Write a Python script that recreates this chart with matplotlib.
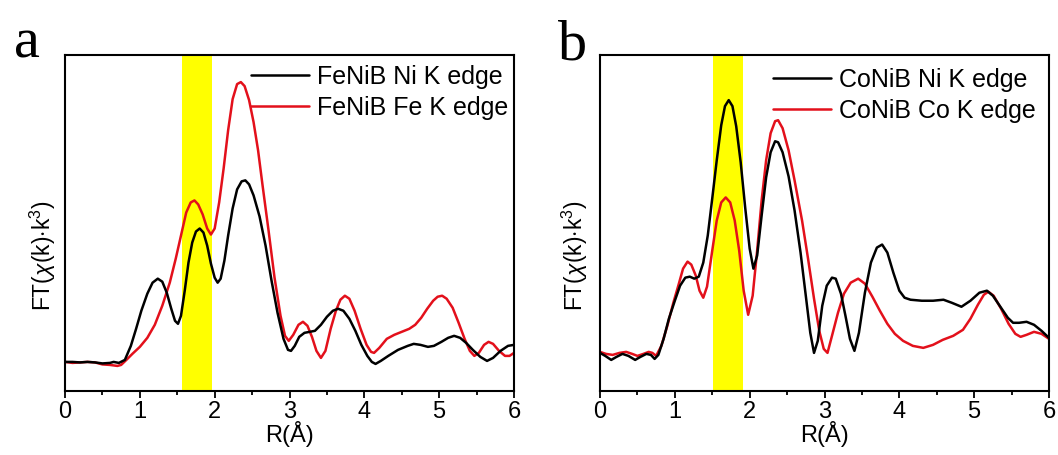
import matplotlib
matplotlib.use("Agg")
import matplotlib.pyplot as plt
from matplotlib.ticker import MultipleLocator

plt.rcParams['font.family'] = ['Liberation Sans', 'DejaVu Sans']
plt.rcParams['mathtext.fontset'] = 'custom'
plt.rcParams['mathtext.rm'] = 'Liberation Sans'
plt.rcParams['mathtext.it'] = 'Liberation Sans:italic'

# ---------------- data (R in Angstrom, FT magnitude in arbitrary units) -------------
a_ni_R = [0.00, 0.10, 0.20, 0.30, 0.40, 0.50, 0.60, 0.65, 0.72, 0.80, 0.88, 0.95, 1.02, 1.10,
          1.17, 1.24, 1.30, 1.36, 1.42, 1.47, 1.51, 1.55, 1.60, 1.65, 1.70, 1.75, 1.80, 1.85,
          1.90, 1.95, 2.00, 2.04, 2.08, 2.13, 2.18, 2.24, 2.30, 2.36, 2.41, 2.46, 2.52, 2.60,
          2.68, 2.76, 2.84, 2.92, 2.98, 3.02, 3.07, 3.13, 3.20, 3.27, 3.34, 3.42, 3.50, 3.58,
          3.65, 3.72, 3.80, 3.88, 3.96, 4.04, 4.10, 4.15, 4.22, 4.32, 4.45, 4.58, 4.66, 4.75,
          4.85, 4.93, 5.03, 5.12, 5.20, 5.28, 5.36, 5.45, 5.55, 5.64, 5.72, 5.82, 5.92, 6.00]
a_ni_FT = [29, 29, 28.5, 29, 28.5, 27.5, 28, 29, 28, 31, 45, 62, 80, 97,
           108, 112, 109, 98, 82, 70, 67, 75, 100, 128, 148, 159, 162, 158,
           145, 127, 113, 108, 112, 130, 155, 182, 201, 209, 210, 206, 195, 174,
           145, 110, 78, 52, 41, 40, 45, 54, 58, 59, 60, 66, 74, 80,
           82, 80, 72, 60, 46, 35, 29, 27, 30, 35, 41, 45, 47, 46,
           44, 45, 49, 53, 55, 53, 48, 41, 34, 30, 33, 40, 45, 46]

a_fe_R = [0.00, 0.10, 0.20, 0.30, 0.40, 0.50, 0.60, 0.70, 0.75, 0.82, 0.90, 1.00, 1.10, 1.20,
          1.30, 1.40, 1.48, 1.55, 1.62, 1.68, 1.73, 1.78, 1.84, 1.90, 1.95, 2.00, 2.06, 2.12,
          2.18, 2.24, 2.30, 2.35, 2.40, 2.46, 2.52, 2.58, 2.64, 2.72, 2.80, 2.88, 2.94, 2.99,
          3.05, 3.12, 3.18, 3.24, 3.30, 3.36, 3.42, 3.48, 3.55, 3.62, 3.68, 3.74, 3.80, 3.87,
          3.95, 4.03, 4.09, 4.13, 4.20, 4.30, 4.40, 4.50, 4.60, 4.68, 4.76, 4.84, 4.92, 4.98,
          5.04, 5.10, 5.18, 5.26, 5.34, 5.41, 5.47, 5.53, 5.60, 5.66, 5.72, 5.80, 5.88, 5.94, 6.00]
a_fe_FT = [29, 28, 28.5, 29, 28.5, 26.5, 26, 25, 26, 31, 37, 44, 53, 66,
           85, 108, 132, 155, 178, 188, 190, 186, 176, 162, 156, 162, 188, 222,
           260, 291, 306, 308, 304, 290, 268, 240, 205, 160, 113, 75, 55, 50,
           56, 66, 69, 65, 54, 40, 33, 40, 62, 80, 91, 95, 92, 80,
           62, 46, 39, 38, 43, 52, 56, 59, 62, 66, 73, 82, 90, 94,
           95, 92, 83, 68, 52, 40, 35, 38, 46, 49, 47, 40, 35, 35, 38]

b_ni_R = [0.00, 0.07, 0.15, 0.22, 0.30, 0.38, 0.47, 0.54, 0.62, 0.68, 0.73, 0.78, 0.85, 0.92,
          1.00, 1.07, 1.14, 1.20, 1.26, 1.32, 1.38, 1.44, 1.50, 1.56, 1.62, 1.67, 1.72, 1.77,
          1.82, 1.88, 1.94, 2.00, 2.05, 2.10, 2.16, 2.22, 2.28, 2.34, 2.38, 2.44, 2.52, 2.60,
          2.68, 2.75, 2.81, 2.86, 2.91, 2.97, 3.03, 3.10, 3.15, 3.22, 3.28, 3.34, 3.40, 3.46,
          3.54, 3.62, 3.70, 3.77, 3.84, 3.92, 4.00, 4.07, 4.15, 4.30, 4.45, 4.59, 4.70, 4.83,
          4.95, 5.07, 5.17, 5.25, 5.35, 5.45, 5.52, 5.60, 5.70, 5.80, 5.90, 6.00]
b_ni_FT = [38, 35, 31, 34, 37, 35, 31, 34, 37, 36, 32, 36, 52, 72,
           90, 105, 113, 114, 112, 114, 128, 155, 192, 230, 265, 284, 290, 284,
           264, 228, 183, 142, 122, 135, 175, 213, 238, 249, 248, 238, 214, 180,
           138, 95, 58, 38, 50, 85, 105, 113, 112, 97, 75, 52, 40, 58,
           98, 128, 143, 146, 138, 118, 100, 93, 91, 90, 90, 91, 88, 84,
           90, 98, 100, 95, 84, 73, 68, 68, 69, 66, 60, 53]

b_co_R = [0.00, 0.08, 0.17, 0.26, 0.35, 0.43, 0.50, 0.58, 0.65, 0.70, 0.75, 0.82, 0.90, 0.98,
          1.05, 1.11, 1.17, 1.22, 1.28, 1.33, 1.38, 1.43, 1.50, 1.56, 1.62, 1.68, 1.74, 1.80,
          1.86, 1.92, 1.98, 2.04, 2.10, 2.16, 2.22, 2.28, 2.34, 2.38, 2.44, 2.52, 2.60, 2.70,
          2.78, 2.86, 2.93, 2.99, 3.04, 3.10, 3.18, 3.26, 3.35, 3.45, 3.54, 3.64, 3.74, 3.84,
          3.94, 4.05, 4.18, 4.32, 4.45, 4.58, 4.72, 4.85, 4.95, 5.05, 5.13, 5.19, 5.26, 5.36,
          5.46, 5.55, 5.62, 5.70, 5.80, 5.90, 6.00]
b_co_FT = [39, 37, 36, 38, 39, 37, 35, 37, 39, 38, 35, 45, 65, 88,
           106, 122, 129, 126, 115, 100, 93, 104, 140, 170, 188, 193, 188, 170,
           140, 100, 76, 95, 140, 190, 230, 257, 269, 270, 262, 240, 210, 170,
           132, 92, 60, 42, 38, 55, 78, 97, 108, 112, 107, 94, 80, 67,
           57, 50, 45, 43, 46, 51, 55, 61, 72, 86, 96, 99, 95, 82,
           67, 57, 54, 56, 59, 57, 52]

band_a = (1.57, 1.96)
band_b = (1.51, 1.91)

labels_a = ['FeNiB Ni K edge', 'FeNiB Fe K edge']
labels_b = ['CoNiB Ni K edge', 'CoNiB Co K edge']
x_ticks = [0, 1, 2, 3, 4, 5, 6]

RED = '#e3101b'
W, H = 1058, 455
fig = plt.figure(figsize=(W / 100, H / 100), dpi=100)

def px_axes(left, right, top, bottom):
    return fig.add_axes([left / W, 1 - bottom / H, (right - left) / W, (bottom - top) / H])

ax_a = px_axes(65, 514, 55, 391)
ax_b = px_axes(600, 1049, 55, 391)

panels = [
    (ax_a, a_ni_R, a_ni_FT, a_fe_R, a_fe_FT, band_a, labels_a, 0.412, 0.975),
    (ax_b, b_ni_R, b_ni_FT, b_co_R, b_co_FT, band_b, labels_b, 0.383, 0.965),
]
for ax, r1, y1, r2, y2, band, labels, lx, ly in panels:
    ax.axvspan(band[0], band[1], color='#ffff00', lw=0, zorder=0)
    ax.plot(r1, y1, color='black', lw=1.8, label=labels[0], zorder=3,
            solid_joinstyle='round', solid_capstyle='round')
    ax.plot(r2, y2, color=RED, lw=1.8, label=labels[1], zorder=2,
            solid_joinstyle='round', solid_capstyle='round')
    ax.set_xlim(0, 6)
    ax.set_ylim(0, 335)
    ax.set_xticks(x_ticks)
    ax.xaxis.set_minor_locator(MultipleLocator(0.5))
    ax.set_yticks([])
    ax.tick_params(axis='x', which='major', direction='out', length=5, width=1.3,
                   labelsize=17, pad=2)
    ax.tick_params(axis='x', which='minor', direction='out', length=3, width=1.3)
    for s in ax.spines.values():
        s.set_linewidth(1.5)
    ax.set_xlabel('R(Å)', fontsize=17, labelpad=-1)
    handles, labs = ax.get_legend_handles_labels()
    ax.legend(handles[:2], labels, loc='upper left', bbox_to_anchor=(lx, ly), frameon=False,
              fontsize=18, handlelength=2.3, handletextpad=0.35, labelspacing=0.28,
              borderpad=0.05, borderaxespad=0)

ylab = r'FT($\chi$(k)$\cdot$k$^{3}$)'
fig.text(43 / W, 1 - 256 / H, ylab, rotation=90, ha='center', va='center', fontsize=16.5)
fig.text(575 / W, 1 - 256 / H, ylab, rotation=90, ha='center', va='center', fontsize=16.5)

fig.text(14 / W, 1 - 57 / H, 'a', fontsize=42, family='Liberation Serif', ha='left', va='baseline')
fig.text(558 / W, 1 - 60 / H, 'b', fontsize=42, family='Liberation Serif', ha='left', va='baseline')

fig.savefig('out.png', dpi=100)
